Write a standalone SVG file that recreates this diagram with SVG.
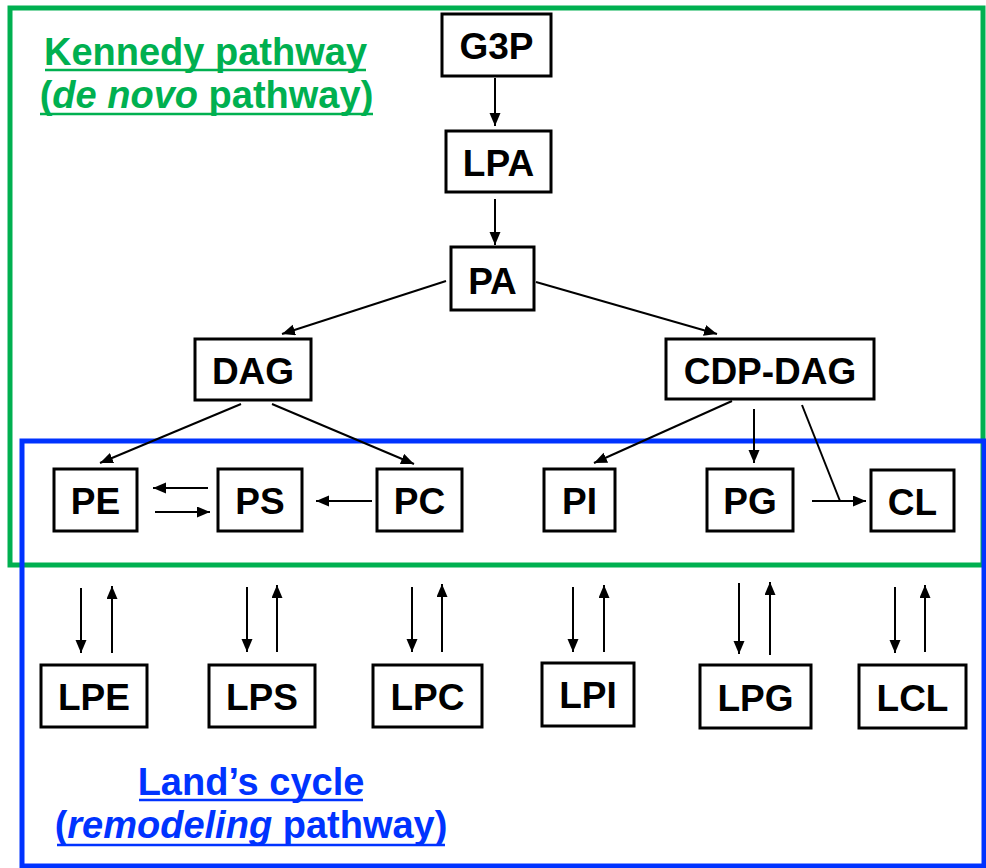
<svg xmlns="http://www.w3.org/2000/svg" width="986" height="868" viewBox="0 0 986 868">
<style>
.node rect{fill:#fff;stroke:#000;stroke-width:3}
.node text{font-family:"Liberation Sans",Arial,sans-serif;font-weight:bold;font-size:37px;text-anchor:middle;fill:#000}
.conn line{stroke:#000;stroke-width:2}
.title{font-family:"Liberation Sans",Arial,sans-serif;font-weight:bold;font-size:38px;text-anchor:middle}
.ul{stroke-width:2.5}
</style>
<defs>
<marker id="ah" markerUnits="userSpaceOnUse" markerWidth="14" markerHeight="12" refX="13" refY="5.5" orient="auto">
<path d="M0,0 L13,5.5 L0,11 z" fill="#000"/>
</marker>
</defs>
<rect id="kennedy-frame" x="10" y="8" width="973" height="557" fill="none" stroke="#00b050" stroke-width="5"/>
<rect id="lands-frame" x="22" y="441" width="962" height="425" fill="none" stroke="#0033ff" stroke-width="5"/>
<g id="connectors" class="conn">
<line x1="495" y1="78" x2="495" y2="126" marker-end="url(#ah)"/>
<line x1="495" y1="199" x2="495" y2="245" marker-end="url(#ah)"/>
<line x1="446" y1="281" x2="282" y2="334" marker-end="url(#ah)"/>
<line x1="536" y1="282" x2="717" y2="334" marker-end="url(#ah)"/>
<line x1="241" y1="404" x2="100" y2="463" marker-end="url(#ah)"/>
<line x1="272" y1="404" x2="414" y2="464" marker-end="url(#ah)"/>
<line x1="732" y1="401" x2="594" y2="463" marker-end="url(#ah)"/>
<line x1="754" y1="409" x2="754" y2="463" marker-end="url(#ah)"/>
<line x1="802" y1="405" x2="840" y2="501"/>
<line x1="812" y1="501" x2="866" y2="501" marker-end="url(#ah)"/>
<line x1="208" y1="488" x2="153" y2="488" marker-end="url(#ah)"/>
<line x1="155" y1="512" x2="210" y2="512" marker-end="url(#ah)"/>
<line x1="372" y1="501" x2="316" y2="501" marker-end="url(#ah)"/>
<line x1="81" y1="588" x2="81" y2="653" marker-end="url(#ah)"/>
<line x1="112" y1="653" x2="112" y2="586" marker-end="url(#ah)"/>
<line x1="247" y1="587" x2="247" y2="652" marker-end="url(#ah)"/>
<line x1="277" y1="652" x2="277" y2="585" marker-end="url(#ah)"/>
<line x1="412" y1="587" x2="412" y2="652" marker-end="url(#ah)"/>
<line x1="442" y1="652" x2="442" y2="584" marker-end="url(#ah)"/>
<line x1="573" y1="587" x2="573" y2="652" marker-end="url(#ah)"/>
<line x1="604" y1="652" x2="604" y2="585" marker-end="url(#ah)"/>
<line x1="739" y1="583" x2="739" y2="654" marker-end="url(#ah)"/>
<line x1="770" y1="655" x2="770" y2="582" marker-end="url(#ah)"/>
<line x1="895" y1="587" x2="895" y2="653" marker-end="url(#ah)"/>
<line x1="925" y1="652" x2="925" y2="585" marker-end="url(#ah)"/>
</g>
<g id="G3P" class="node"><rect x="442" y="14" width="109" height="62"/><text x="496.5" y="59">G3P</text></g>
<g id="LPA" class="node"><rect x="446" y="131" width="105" height="61"/><text x="498.5" y="176">LPA</text></g>
<g id="PA" class="node"><rect x="451" y="247" width="83" height="63"/><text x="492.5" y="294">PA</text></g>
<g id="DAG" class="node"><rect x="195" y="339" width="116" height="61"/><text x="253" y="384">DAG</text></g>
<g id="CDP-DAG" class="node"><rect x="666" y="339" width="208" height="60"/><text x="770" y="384">CDP-DAG</text></g>
<g id="PE" class="node"><rect x="54" y="469" width="83" height="62"/><text x="95.5" y="514">PE</text></g>
<g id="PS" class="node"><rect x="218" y="469" width="84" height="62"/><text x="260" y="514">PS</text></g>
<g id="PC" class="node"><rect x="377" y="469" width="85" height="62"/><text x="419.5" y="514">PC</text></g>
<g id="PI" class="node"><rect x="544" y="469" width="71" height="62"/><text x="579.5" y="514">PI</text></g>
<g id="PG" class="node"><rect x="707" y="469" width="86" height="62"/><text x="750" y="514">PG</text></g>
<g id="CL" class="node"><rect x="871" y="470" width="83" height="61"/><text x="912.5" y="515">CL</text></g>
<g id="LPE" class="node"><rect x="41" y="665" width="106" height="62"/><text x="94" y="710">LPE</text></g>
<g id="LPS" class="node"><rect x="209" y="665" width="106" height="62"/><text x="262" y="710">LPS</text></g>
<g id="LPC" class="node"><rect x="373" y="665" width="109" height="62"/><text x="427.5" y="710">LPC</text></g>
<g id="LPI" class="node"><rect x="542" y="663" width="92" height="63"/><text x="588" y="708">LPI</text></g>
<g id="LPG" class="node"><rect x="700" y="665" width="111" height="63"/><text x="755.5" y="711">LPG</text></g>
<g id="LCL" class="node"><rect x="859" y="665" width="107" height="63"/><text x="912.5" y="711">LCL</text></g>
<g id="kennedy-title" fill="#00b050">
<text class="title" x="205.5" y="65">Kennedy pathway</text>
<text class="title" x="206.5" y="108">(<tspan font-style="italic">de novo</tspan> pathway)</text>
<line class="ul" x1="45" y1="70" x2="366" y2="70" stroke="#00b050"/>
<line class="ul" x1="40" y1="114" x2="373" y2="114" stroke="#00b050"/>
</g>
<g id="lands-title" fill="#0033ff">
<text class="title" x="251" y="795">Land’s cycle</text>
<text class="title" x="251" y="838">(<tspan font-style="italic">remodeling</tspan> pathway)</text>
<line class="ul" x1="139" y1="800" x2="363" y2="800" stroke="#0033ff"/>
<line class="ul" x1="57" y1="845" x2="445" y2="845" stroke="#0033ff"/>
</g>
</svg>
